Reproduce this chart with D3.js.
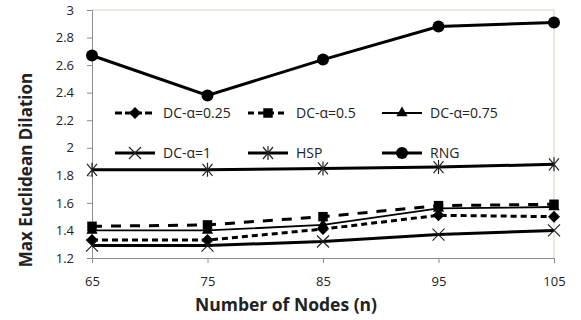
<!DOCTYPE html>
<html>
<head>
<meta charset="utf-8">
<script src="https://cdn.jsdelivr.net/npm/d3@7"></script>
<style>
    body { margin: 0; background: #fff; }
    .chart text { font-family: "Open Sans", "DejaVu Sans", sans-serif; fill: #222; }
</style>
</head>
<body>
<div class="chart"></div>
<script>
// data
let nodes = [65, 75, 85, 95, 105];
let yTicks = [1.2, 1.4, 1.6, 1.8, 2, 2.2, 2.4, 2.6, 2.8, 3];
let dc025 = [1.33, 1.33, 1.41, 1.51, 1.50];
let dc05 = [1.43, 1.44, 1.50, 1.58, 1.59];
let dc075 = [1.40, 1.40, 1.44, 1.56, 1.57];
let dc1 = [1.29, 1.29, 1.32, 1.37, 1.40];
let hsp = [1.84, 1.84, 1.85, 1.86, 1.88];
let rng = [2.67, 2.38, 2.64, 2.88, 2.91];
let seriesNames = ["DC-α=0.25", "DC-α=0.5", "DC-α=0.75", "DC-α=1", "HSP", "RNG"];

let width = 581, height = 320;
let margin = {top: 10, right: 27, bottom: 62, left: 92};
let insideWidth = width - margin.left - margin.right;
let insideHeight = height - margin.top - margin.bottom;

let svg = d3.select(".chart").append("svg")
    .attr("width", width)
    .attr("height", height);

let g = svg.append("g").attr("transform", "translate(" + margin.left + "," + margin.top + ")");

let xScale = d3.scaleLinear().domain([65, 105]).range([0, insideWidth]);
let yScale = d3.scaleLinear().domain([1.2, 3]).range([insideHeight, 0]);

//plot frame: light top and right edges
g.append("path")
    .attr("d", "M0,0H" + insideWidth + "V" + insideHeight)
    .attr("fill", "none")
    .attr("stroke", "#d6d3b8")
    .attr("stroke-width", 1);

//axes
let yAxis = g.append("g")
    .call(d3.axisLeft(yScale).tickValues(yTicks).tickSize(5).tickPadding(13)
        .tickFormat(function(d) { return +d.toFixed(1); }));
let xAxis = g.append("g")
    .attr("transform", "translate(0," + insideHeight + ")")
    .call(d3.axisBottom(xScale).tickValues(nodes).tickSize(5).tickPadding(14));

[yAxis, xAxis].forEach(function(a) {
    a.select(".domain").attr("stroke", "#8c8c8c");
    a.selectAll(".tick line").attr("stroke", "#8c8c8c");
    a.selectAll(".tick text").style("font-size", "13px").attr("fill", "#222");
});

//series styles
let styles = [
    {data: dc025, width: 3, dash: "6,4", marker: "diamond"},
    {data: dc05, width: 3, dash: "10,9", marker: "square"},
    {data: dc075, width: 1.8, dash: null, marker: "triangle"},
    {data: dc1, width: 3, dash: null, marker: "x"},
    {data: hsp, width: 3, dash: null, marker: "star"},
    {data: rng, width: 3, dash: null, marker: "circle"}
];

function drawMarker(sel, type) {
    if (type == "diamond") {
        sel.append("path").attr("d", "M0,-6L6,0L0,6L-6,0Z").attr("fill", "#000");
    } else if (type == "square") {
        sel.append("path").attr("d", d3.symbol(d3.symbolSquare, 90)()).attr("fill", "#000");
    } else if (type == "triangle") {
        sel.append("path").attr("d", d3.symbol(d3.symbolTriangle, 55)()).attr("fill", "#000");
    } else if (type == "x") {
        sel.append("path").attr("d", "M-6,-6L6,6M-6,6L6,-6").attr("stroke", "#222").attr("stroke-width", 1.2);
    } else if (type == "star") {
        sel.append("path").attr("d", "M-5,-6L5,6M-5,6L5,-6M0,-7V7").attr("stroke", "#222").attr("stroke-width", 1.2);
    } else {
        sel.append("circle").attr("r", 6).attr("fill", "#000");
    }
}

let line = d3.line()
    .x(function(d, i) { return xScale(nodes[i]); })
    .y(function(d) { return yScale(d); });

styles.forEach(function(s) {
    g.append("path")
        .datum(s.data)
        .attr("fill", "none")
        .attr("stroke", "#000")
        .attr("stroke-width", s.width)
        .attr("stroke-dasharray", s.dash)
        .attr("d", line);
    g.selectAll(null)
        .data(s.data)
        .enter().append("g")
        .attr("transform", function(d, i) { return "translate(" + xScale(nodes[i]) + "," + yScale(d) + ")"; })
        .each(function() { drawMarker(d3.select(this), s.marker); });
});

//legend, 2 rows x 3 columns
let colX = [115, 248, 382];
let rowY = [113, 153];
styles.forEach(function(s, i) {
    let lg = svg.append("g")
        .attr("transform", "translate(" + colX[i % 3] + "," + rowY[Math.floor(i / 3)] + ")");
    lg.append("line")
        .attr("x1", 0).attr("x2", 40)
        .attr("stroke", "#000")
        .attr("stroke-width", s.width)
        .attr("stroke-dasharray", s.dash == "6,4" ? "7,3" : s.dash == "10,9" ? "6,4" : null);
    drawMarker(lg.append("g").attr("transform", "translate(20,0)"), s.marker);
    lg.append("text")
        .attr("x", 48).attr("dy", "0.35em")
        .style("font-size", "14px")
        .text(seriesNames[i]);
});

//axis titles
svg.append("text")
    .attr("x", 286).attr("y", 311)
    .attr("text-anchor", "middle")
    .style("font-size", "17.5px").style("font-weight", "bold")
    .text("Number of Nodes (n)");
svg.append("text")
    .attr("transform", "translate(32,170) rotate(-90)")
    .attr("text-anchor", "middle")
    .style("font-size", "17px").style("font-weight", "bold")
    .text("Max Euclidean Dilation");
</script>
</body>
</html>
